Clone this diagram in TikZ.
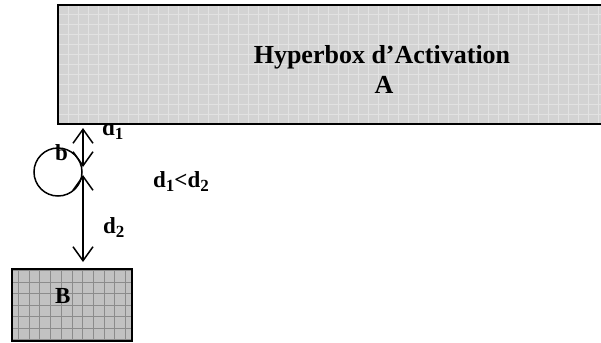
\documentclass[tikz,border=0pt]{standalone}
\usepackage{fontspec}
\setmainfont{Liberation Serif}
\usetikzlibrary{arrows.meta}
\definecolor{boxAfill}{HTML}{D3D3D3}
\definecolor{boxAgrid}{HTML}{E2E2E2}
\definecolor{boxBfill}{HTML}{C2C2C2}
\definecolor{boxBgrid}{HTML}{8C8C8C}
% lowered, smaller digit used as a subscript
\newcommand\lowsub[1]{\raisebox{-4bp}{\fontsize{17bp}{17bp}\selectfont #1}}
\begin{document}
\begin{tikzpicture}[x=1bp,y=-1bp,
  lbl/.style={font=\fontsize{23bp}{27bp}\selectfont\bfseries, inner sep=0pt, anchor=base west},
  ttl/.style={font=\fontsize{26bp}{30bp}\selectfont\bfseries, inner sep=0pt, anchor=base},
  hyperbox/.style={draw=black, line width=2bp, rectangle, inner sep=0pt, anchor=north west},
  gridA/.style={path picture={\draw[boxAgrid, line width=1bp]
      (path picture bounding box.south west) grid[step=10bp] (path picture bounding box.north east);}},
  gridB/.style={path picture={\draw[boxBgrid, line width=1bp]
      (path picture bounding box.south west) grid[xstep=10.7bp, ystep=11.5bp] (path picture bounding box.north east);}},
  dist/.style={line width=1.5bp,
      {Straight Barb[length=14bp,width=20bp]}-{Straight Barb[length=14bp,width=20bp]}}
]
\useasboundingbox (0,0) rectangle (601,342);
\clip (0,0) rectangle (601,342);

% distance label under the activation box (its top is hidden by the box)
\node[lbl] (labd1) at (102,135) {d\lowsub{1}};

% activation hyperbox A, running off to the right
\node[hyperbox, fill=boxAfill, gridA, minimum width=560bp, minimum height=119bp] (boxA) at (57,4) {};
\node[ttl] (titleA) at (382,63) {Hyperbox d’Activation};
\node[ttl] (nameA) at (384,93) {A};

% hyperbox B
\node[hyperbox, fill=boxBfill, gridB, minimum width=120bp, minimum height=72bp] (boxB) at (11,268) {};
\node[lbl] (nameB) at (55,303) {B};

% point b
\node[circle, draw=black, line width=1.5bp, minimum size=48bp, inner sep=0pt] (ptb) at (58,172) {};
\node[lbl] (labb) at (55,160) {b};

% distances from b to A and to B
\coordinate (d1top) at (83,128);
\coordinate (d1bot) at (83,167);
\coordinate (d2top) at (83,175);
\coordinate (d2bot) at (83,262);
\draw[dist] (d1top) -- (d1bot);
\draw[dist] (d2top) -- (d2bot);

\node[lbl] (labd2) at (103,233) {d\lowsub{2}};
\node[lbl] (labcmp) at (153,187) {d\lowsub{1}<d\lowsub{2}};
\end{tikzpicture}
\end{document}
